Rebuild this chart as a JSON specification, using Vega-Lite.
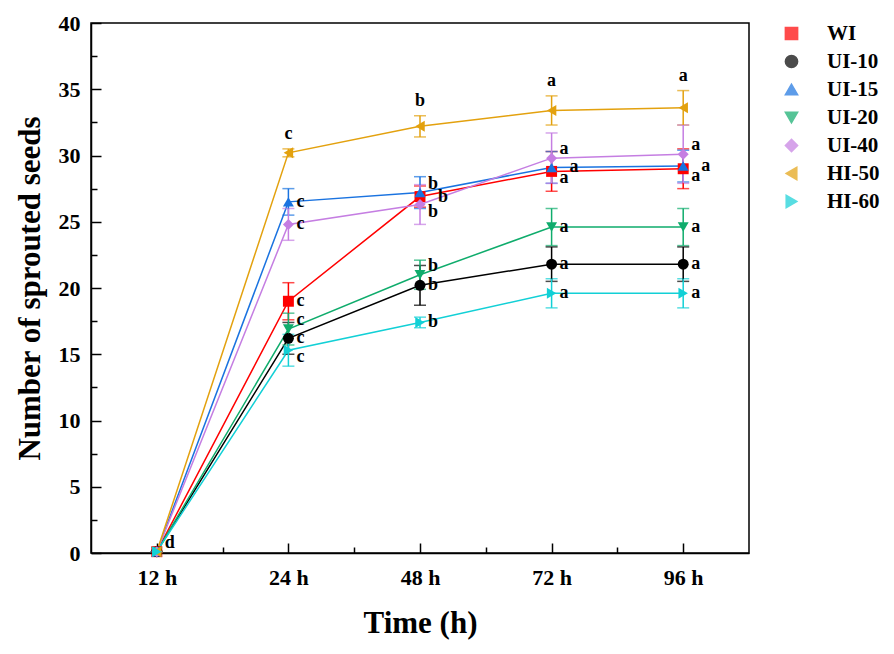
{
  "$schema": "https://vega.github.io/schema/vega-lite/v6.json",
  "width": 658,
  "height": 530,
  "autosize": {"type": "none"},
  "padding": {"left": 91, "top": 23, "right": 145, "bottom": 101},
  "background": "white",
  "data": {
    "values": [
      {"series": "WI", "t": 1, "mean": 0.1, "sd": 0, "sig": "d"},
      {"series": "WI", "t": 2, "mean": 19.0, "sd": 1.4, "sig": "c"},
      {"series": "WI", "t": 3, "mean": 26.9, "sd": 0.8, "sig": "b"},
      {"series": "WI", "t": 4, "mean": 28.8, "sd": 1.5, "sig": "a"},
      {"series": "WI", "t": 5, "mean": 29.0, "sd": 1.5, "sig": "a"},
      {"series": "UI-10", "t": 1, "mean": 0.1, "sd": 0, "sig": "d"},
      {"series": "UI-10", "t": 2, "mean": 16.2, "sd": 1.2, "sig": "c"},
      {"series": "UI-10", "t": 3, "mean": 20.2, "sd": 1.5, "sig": "b"},
      {"series": "UI-10", "t": 4, "mean": 21.8, "sd": 1.3, "sig": "a"},
      {"series": "UI-10", "t": 5, "mean": 21.8, "sd": 1.3, "sig": "a"},
      {"series": "UI-15", "t": 1, "mean": 0.1, "sd": 0, "sig": "d"},
      {"series": "UI-15", "t": 2, "mean": 26.5, "sd": 1.0, "sig": "c"},
      {"series": "UI-15", "t": 3, "mean": 27.2, "sd": 1.2, "sig": "b"},
      {"series": "UI-15", "t": 4, "mean": 29.1, "sd": 1.2, "sig": "a"},
      {"series": "UI-15", "t": 5, "mean": 29.2, "sd": 1.2, "sig": "a"},
      {"series": "UI-20", "t": 1, "mean": 0.1, "sd": 0, "sig": "d"},
      {"series": "UI-20", "t": 2, "mean": 16.9, "sd": 1.2, "sig": "c"},
      {"series": "UI-20", "t": 3, "mean": 21.0, "sd": 1.1, "sig": "b"},
      {"series": "UI-20", "t": 4, "mean": 24.6, "sd": 1.4, "sig": "a"},
      {"series": "UI-20", "t": 5, "mean": 24.6, "sd": 1.4, "sig": "a"},
      {"series": "UI-40", "t": 1, "mean": 0.1, "sd": 0, "sig": "d"},
      {"series": "UI-40", "t": 2, "mean": 24.8, "sd": 1.2, "sig": "c"},
      {"series": "UI-40", "t": 3, "mean": 26.3, "sd": 1.5, "sig": "b"},
      {"series": "UI-40", "t": 4, "mean": 29.8, "sd": 1.9, "sig": "a"},
      {"series": "UI-40", "t": 5, "mean": 30.1, "sd": 2.2, "sig": "a"},
      {"series": "HI-50", "t": 1, "mean": 0.1, "sd": 0, "sig": "d"},
      {"series": "HI-50", "t": 2, "mean": 30.2, "sd": 0.3, "sig": "c"},
      {"series": "HI-50", "t": 3, "mean": 32.2, "sd": 0.8, "sig": "b"},
      {"series": "HI-50", "t": 4, "mean": 33.4, "sd": 1.1, "sig": "a"},
      {"series": "HI-50", "t": 5, "mean": 33.6, "sd": 1.3, "sig": "a"},
      {"series": "HI-60", "t": 1, "mean": 0.1, "sd": 0, "sig": "d"},
      {"series": "HI-60", "t": 2, "mean": 15.3, "sd": 1.2, "sig": "c"},
      {"series": "HI-60", "t": 3, "mean": 17.4, "sd": 0.4, "sig": "b"},
      {"series": "HI-60", "t": 4, "mean": 19.6, "sd": 1.1, "sig": "a"},
      {"series": "HI-60", "t": 5, "mean": 19.6, "sd": 1.1, "sig": "a"}
    ]
  },
  "layer": [
    {
      "mark": {"type": "line", "strokeWidth": 1.5},
      "encoding": {
        "x": {
          "field": "t", "type": "quantitative",
          "scale": {"domain": [0.5, 5.5], "nice": false, "zero": false},
          "axis": {
            "values": [1, 2, 3, 4, 5],
            "labelExpr": "['12 h', '24 h', '48 h', '72 h', '96 h'][datum.value - 1]",
            "title": "Time (h)",
            "orient": "bottom",
            "tickSize": -10,
            "labelPadding": 24,
            "titlePadding": 20
          }
        },
        "y": {
          "field": "mean", "type": "quantitative",
          "scale": {"domain": [0, 40], "nice": false},
          "axis": {
            "values": [0, 5, 10, 15, 20, 25, 30, 35, 40],
            "title": "Number of sprouted seeds",
            "orient": "left",
            "tickSize": -10,
            "labelPadding": 21,
            "titlePadding": 12
          }
        },
        "color": {
          "field": "series", "type": "nominal",
          "scale": {
            "domain": ["WI", "UI-10", "UI-15", "UI-20", "UI-40", "HI-50", "HI-60"],
            "range": ["#ff0000", "#000000", "#1a73e0", "#0fac6c", "#c57ee2", "#e3a10e", "#12d0d6"]
          },
          "legend": {
            "title": null,
            "orient": "right",
            "offset": 32,
            "padding": 0,
            "symbolSize": 150,
            "labelOffset": 25,
            "rowPadding": 6,
            "labelFont": "Liberation Serif",
            "labelFontWeight": "bold",
            "labelFontSize": 21,
            "labelColor": "black"
          }
        }
      }
    },
    {
      "mark": {"type": "errorbar", "ticks": true, "size": 12, "thickness": 1.5},
      "encoding": {
        "x": {"field": "t", "type": "quantitative", "axis": null},
        "y": {"field": "mean", "type": "quantitative", "axis": null},
        "yError": {"field": "sd"},
        "color": {"field": "series", "type": "nominal"}
      }
    },
    {
      "mark": {"type": "point", "filled": true, "size": 120, "opacity": 1, "strokeWidth": 0},
      "encoding": {
        "x": {"field": "t", "type": "quantitative", "axis": null},
        "y": {"field": "mean", "type": "quantitative", "axis": null},
        "fill": {
          "field": "series", "type": "nominal",
          "scale": {
            "domain": ["WI", "UI-10", "UI-15", "UI-20", "UI-40", "HI-50", "HI-60"],
            "range": ["#ff0000", "#000000", "#1a73e0", "#0fac6c", "#c57ee2", "#e3a10e", "#12d0d6"]
          },
          "legend": null
        },
        "shape": {
          "field": "series", "type": "nominal",
          "scale": {
            "domain": ["WI", "UI-10", "UI-15", "UI-20", "UI-40", "HI-50", "HI-60"],
            "range": ["square", "circle", "triangle-up", "triangle-down", "diamond", "triangle-left", "triangle-right"]
          },
          "legend": null
        }
      }
    },
    {
      "transform": [{"filter": "datum.t > 1 && datum.series !== 'HI-50' && !((datum.series === 'UI-20' && datum.t <= 3) || (datum.series === 'UI-15' && datum.t >= 3) || (datum.series === 'UI-40' && datum.t >= 3) || (datum.series === 'WI' && datum.t >= 3) || (datum.series === 'HI-60' && datum.t === 2))"}],
      "mark": {"type": "text", "align": "left", "baseline": "middle", "dx": 8, "font": "Liberation Serif", "fontWeight": "bold", "fontSize": 18, "color": "black"},
      "encoding": {
        "x": {"field": "t", "type": "quantitative", "axis": null},
        "y": {"field": "mean", "type": "quantitative", "axis": null},
        "text": {"field": "sig"}
      }
    },
    {
      "transform": [{"filter": "(datum.series === 'WI' && datum.t === 1) || (datum.series === 'UI-20' && (datum.t === 2 || datum.t === 3)) || (datum.series === 'UI-15' && datum.t === 3) || (datum.series === 'UI-40' && datum.t >= 4)"}],
      "mark": {"type": "text", "align": "left", "baseline": "middle", "dx": 8, "dy": -9, "font": "Liberation Serif", "fontWeight": "bold", "fontSize": 18, "color": "black"},
      "encoding": {
        "x": {"field": "t", "type": "quantitative", "axis": null},
        "y": {"field": "mean", "type": "quantitative", "axis": null},
        "text": {"field": "sig"}
      }
    },
    {
      "transform": [{"filter": "(datum.series === 'UI-15' && datum.t >= 4) || (datum.series === 'WI' && datum.t === 3)"}],
      "mark": {"type": "text", "align": "left", "baseline": "middle", "dx": 18, "font": "Liberation Serif", "fontWeight": "bold", "fontSize": 18, "color": "black"},
      "encoding": {
        "x": {"field": "t", "type": "quantitative", "axis": null},
        "y": {"field": "mean", "type": "quantitative", "axis": null},
        "text": {"field": "sig"}
      }
    },
    {
      "transform": [{"filter": "(datum.series === 'WI' && datum.t >= 4) || (datum.series === 'UI-40' && datum.t === 3) || (datum.series === 'HI-60' && datum.t === 2)"}],
      "mark": {"type": "text", "align": "left", "baseline": "middle", "dx": 8, "dy": 7, "font": "Liberation Serif", "fontWeight": "bold", "fontSize": 18, "color": "black"},
      "encoding": {
        "x": {"field": "t", "type": "quantitative", "axis": null},
        "y": {"field": "mean", "type": "quantitative", "axis": null},
        "text": {"field": "sig"}
      }
    },
    {
      "transform": [
        {"filter": "datum.series === 'HI-50' && datum.t > 1"},
        {"calculate": "datum.mean + datum.sd", "as": "top"}
      ],
      "mark": {"type": "text", "align": "center", "baseline": "bottom", "dy": -6, "font": "Liberation Serif", "fontWeight": "bold", "fontSize": 18, "color": "black"},
      "encoding": {
        "x": {"field": "t", "type": "quantitative", "axis": null},
        "y": {"field": "top", "type": "quantitative", "axis": null},
        "text": {"field": "sig"}
      }
    },
    {
      "mark": {"type": "point", "opacity": 0},
      "encoding": {
        "x": {
          "field": "t", "type": "quantitative",
          "axis": {"values": [1.5, 2.5, 3.5, 4.5], "orient": "bottom", "labels": false, "domain": false, "title": null, "tickSize": -6}
        },
        "y": {
          "field": "mean", "type": "quantitative",
          "axis": {"values": [2.5, 7.5, 12.5, 17.5, 22.5, 27.5, 32.5, 37.5], "orient": "left", "labels": false, "domain": false, "title": null, "tickSize": -6}
        }
      }
    }
  ],
  "resolve": {"axis": {"x": "independent", "y": "independent"}},
  "config": {
    "view": {"stroke": "black", "strokeWidth": 1.5},
    "axis": {
      "grid": false,
      "domainColor": "black",
      "domainWidth": 1.5,
      "tickColor": "black",
      "tickWidth": 1.5,
      "labelFont": "Liberation Serif",
      "labelFontWeight": "bold",
      "labelFontSize": 22,
      "labelColor": "black",
      "titleFont": "Liberation Serif",
      "titleFontWeight": "bold",
      "titleFontSize": 31,
      "titleColor": "black"
    }
  }
}
